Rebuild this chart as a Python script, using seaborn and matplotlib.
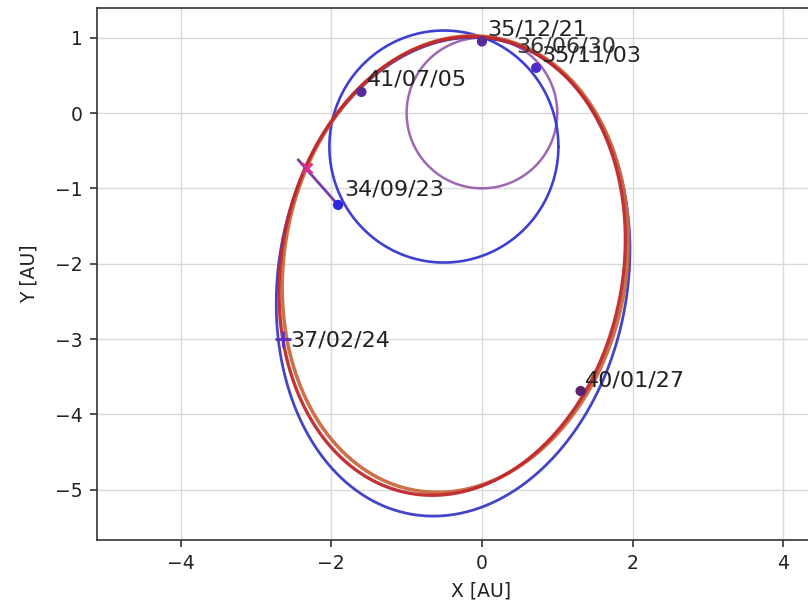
import numpy as np
import pandas as pd
import matplotlib
matplotlib.use("Agg")
import matplotlib.pyplot as plt
import seaborn as sns

# Orbits drawn as ellipses: centre, semi-axes [AU] and tilt of the first axis [deg]
orbit_names = ["earth", "inner", "transfer_blue", "transfer_brown", "transfer_red"]
orbit_cx = [0.00, -0.505, -0.383, -0.354, -0.395]
orbit_cy = [0.00, -0.445, -2.174, -2.006, -2.030]
orbit_a = [1.00, 1.52, 3.20, 3.05, 3.07]
orbit_b = [1.00, 1.54, 2.316, 2.27, 2.265]
orbit_tilt = [0.0, 0.0, 80.0, 80.0, 79.0]
orbit_colors = ["#9a5fae", "#3434d0", "#3a3ac4", "#c86a40", "#c0282c"]
orbit_widths = [1.8, 1.9, 2.0, 2.6, 2.4]

# Event positions [AU] and their dates
event_x = [0.00, 0.72, -1.60, -1.91, 1.31]
event_y = [0.95, 0.60, 0.28, -1.22, -3.69]
event_colors = ["#5a2c9a", "#4a2cc8", "#5a2c9a", "#2a2ad8", "#5a2470"]
event_labels = ["35/12/21", "35/11/03", "41/07/05", "34/09/23", "40/01/27"]

extra_labels = ["36/06/30", "37/02/24"]
extra_x = [0.44, -2.64]
extra_y = [0.80, -3.00]

# Departure burn segment
burn_x = [-2.44, -1.91]
burn_y = [-0.62, -1.22]
burn_mark_x = [-2.32]
burn_mark_y = [-0.73]

sns.set_theme(style="whitegrid")
plt.rcParams["font.family"] = ["DejaVu Sans"]

fig = plt.figure(figsize=(8.08, 6.06), dpi=100)
ax = fig.add_axes([97 / 808, 66 / 606, 768 / 808, 532 / 606])
ax.set_facecolor("white")

t = np.linspace(0, 2 * np.pi, 720)
for name, cx, cy, a, b, tilt, col, lw in zip(orbit_names, orbit_cx, orbit_cy, orbit_a,
                                            orbit_b, orbit_tilt, orbit_colors, orbit_widths):
    phi = np.deg2rad(tilt)
    u = a * np.cos(t)
    v = b * np.sin(t)
    df = pd.DataFrame({"x": cx + u * np.cos(phi) - v * np.sin(phi),
                       "y": cy + u * np.sin(phi) + v * np.cos(phi)})
    sns.lineplot(data=df, x="x", y="y", sort=False, estimator=None, ax=ax,
                 color=col, lw=lw, alpha=0.95)

sns.lineplot(x=burn_x, y=burn_y, sort=False, estimator=None, ax=ax,
             color="#7a3aa8", lw=2.0)
ax.plot(burn_mark_x, burn_mark_y, marker="x", ms=7, mew=2, color="#e0308f", ls="none")

sns.scatterplot(x=event_x, y=event_y, hue=event_labels, palette=event_colors,
                s=55, edgecolor="none", legend=False, ax=ax, zorder=5)
ax.plot(extra_x[1], extra_y[1], marker="+", ms=12, mew=2, color="#5a30c0", ls="none")

label_dx = [0.07, 0.07, 0.07, 0.08, 0.06]
label_dy = [0.08, 0.09, 0.08, 0.12, 0.06]
ax.text(extra_x[0] + 0.02, extra_y[0], extra_labels[0], fontsize=16, color="#333333",
        zorder=6)
for x, y, s, dx, dy in zip(event_x, event_y, event_labels, label_dx, label_dy):
    ax.text(x + dx, y + dy, s, fontsize=16, color="#222222", zorder=6)
ax.text(extra_x[1] + 0.09, extra_y[1] - 0.10, extra_labels[1], fontsize=16,
        color="#222222", zorder=6)

ax.set_xlim(-5.11, -5.11 + 768 / 75.33)
ax.set_ylim(-5.668, 1.394)
ax.set_xticks([-4, -2, 0, 2, 4])
ax.set_yticks([1, 0, -1, -2, -3, -4, -5])
ax.grid(True, color="#d9d9d9", lw=1.0)
for sp in ax.spines.values():
    sp.set_color("#333333")
    sp.set_linewidth(1.2)
ax.tick_params(axis="both", labelsize=13.5, colors="#222222", length=5, width=1.1,
               direction="out", bottom=True, left=True, pad=5)
ax.set_xlabel("X [AU]", fontsize=13.5, color="#222222", labelpad=6)
ax.set_ylabel("Y [AU]", fontsize=13.5, color="#222222", labelpad=12)

fig.savefig("out.png", dpi=100)
